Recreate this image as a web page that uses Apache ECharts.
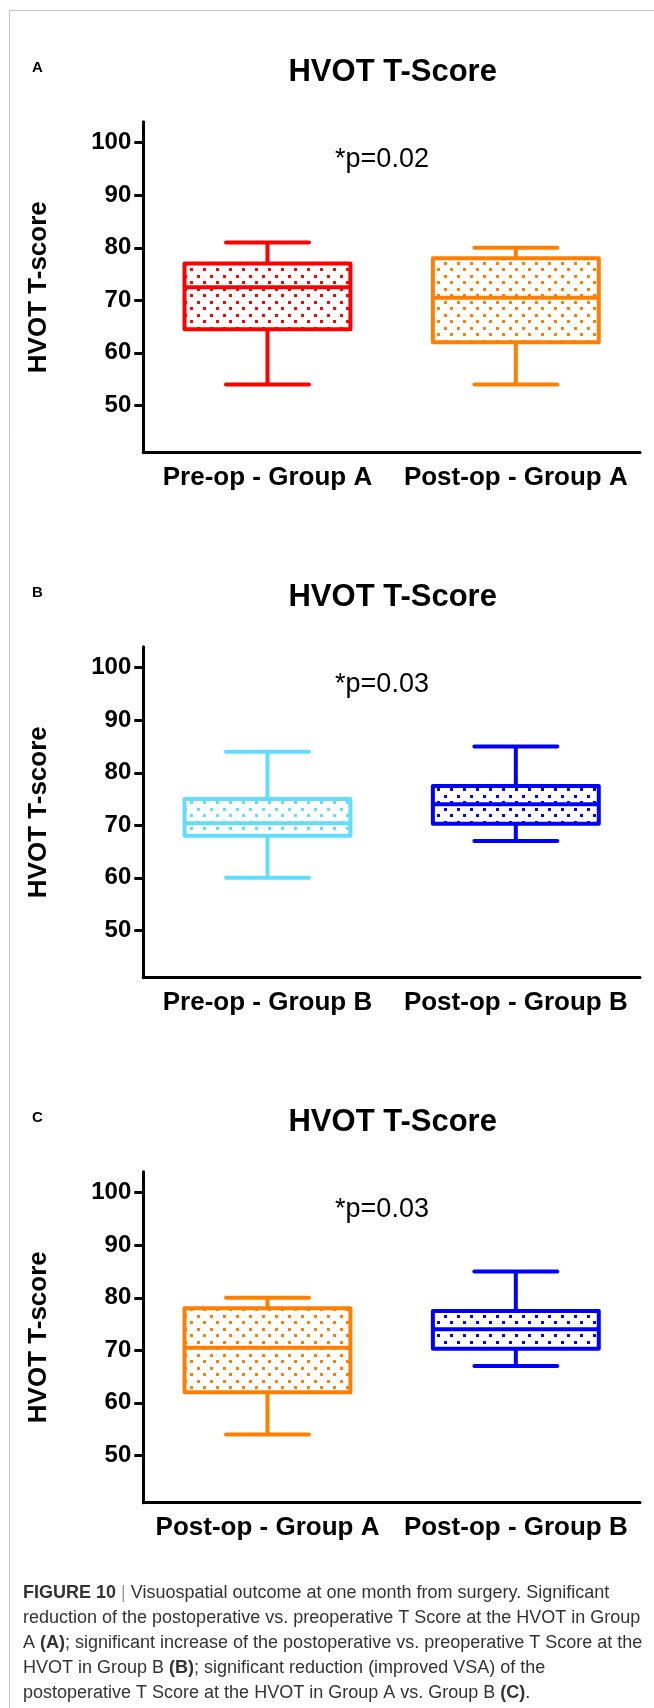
<!DOCTYPE html>
<html>
<head>
<meta charset="utf-8">
<script src="https://cdn.jsdelivr.net/npm/echarts@6/dist/echarts.min.js"></script>
<style>
html,body{margin:0;padding:0;background:#fff;}
#chart{width:654px;height:1708px;}
</style>
</head>
<body>
<div id="chart"></div>
<script>
// ---- data ----
const catsA = ['Pre-op - Group A', 'Post-op - Group A'];
const catsB = ['Pre-op - Group B', 'Post-op - Group B'];
const catsC = ['Post-op - Group A', 'Post-op - Group B'];
// [min, Q1, median, Q3, max]
const boxA = [[54, 64.5, 72.5, 77, 81], [54, 62, 70.5, 78, 80]];
const boxB = [[60, 68, 70.4, 75, 84], [67, 70.3, 74, 77.5, 85]];
const boxC = [[54, 62, 70.5, 78, 80], [67, 70.3, 74, 77.5, 85]];
const colorsA = ['#ff0000', '#ff8000'];
const colorsB = ['#62dcff', '#0000ff'];
const colorsC = ['#ff8000', '#0000ff'];
const pTexts = ['*p=0.02', '*p=0.03', '*p=0.03'];
const panelLetters = ['A', 'B', 'C'];
const yTicks = [50, 60, 70, 80, 90, 100];
const yMin = 41, yMax = 104;

function dotPattern(color) {
  const c = document.createElement('canvas');
  c.width = 13; c.height = 13;
  const g = c.getContext('2d');
  g.fillStyle = '#ffffff';
  g.fillRect(0, 0, 13, 13);
  g.fillStyle = color;
  g.fillRect(2, 2, 3, 3);
  g.fillRect(8, 8, 3, 3);
  return { image: c, repeat: 'repeat' };
}

const panels = [
  { cats: catsA, box: boxA, colors: colorsA },
  { cats: catsB, box: boxB, colors: colorsB },
  { cats: catsC, box: boxC, colors: colorsC }
];

const OFFSET = 525;
const GRID_LEFT = 143.3, GRID_RIGHT = 14, GRID_TOP = 121.7, GRID_H = 331;
const FONT = '"Liberation Sans", Arial, Helvetica, sans-serif';

const grids = [], xAxes = [], yAxes = [], series = [], graphics = [];

panels.forEach((p, k) => {
  grids.push({ left: GRID_LEFT, right: GRID_RIGHT, top: GRID_TOP + OFFSET * k, height: GRID_H });
  xAxes.push({
    type: 'category', gridIndex: k, data: p.cats, boundaryGap: true,
    axisLine: { lineStyle: { color: '#000', width: 3 } },
    axisTick: { alignWithLabel: true, length: 10, lineStyle: { color: '#000', width: 3 } },
    axisLabel: { interval: 0, hideOverlap: false, color: '#000', fontFamily: FONT, fontWeight: 'bold', fontSize: 26, margin: 12 },
    splitLine: { show: false }
  });
  yAxes.push({
    type: 'value', gridIndex: k, min: yMin, max: yMax,
    name: 'HVOT T-score', nameLocation: 'middle', nameGap: 91,
    nameTextStyle: { color: '#000', fontFamily: FONT, fontWeight: 'bold', fontSize: 26 },
    axisLine: { show: true, lineStyle: { color: '#000', width: 3 } },
    axisTick: { show: true, length: 9, customValues: yTicks, lineStyle: { color: '#000', width: 3 } },
    axisLabel: { color: '#000', fontFamily: FONT, fontWeight: 'bold', fontSize: 24, margin: 12, customValues: yTicks },
    splitLine: { show: false }
  });
  const patterns = p.colors.map(dotPattern);
  series.push({
    type: 'custom', xAxisIndex: k, yAxisIndex: k,
    data: p.box.map((b, i) => [i].concat(b)),
    encode: { x: 0, y: [1, 2, 3, 4, 5] },
    renderItem: function (params, api) {
      const ci = api.value(0);
      const col = p.colors[params.dataIndex];
      const pat = patterns[params.dataIndex];
      const x = api.coord([ci, api.value(3)])[0];
      const yMinP = api.coord([ci, api.value(1)])[1];
      const yQ1 = api.coord([ci, api.value(2)])[1];
      const yMed = api.coord([ci, api.value(3)])[1];
      const yQ3 = api.coord([ci, api.value(4)])[1];
      const yMaxP = api.coord([ci, api.value(5)])[1];
      const bw = api.size([1, 0])[0] * 0.668;
      const half = bw / 2, capHalf = bw / 4;
      const ls = { stroke: col, lineWidth: 4, fill: null };
      return {
        type: 'group',
        children: [
          { type: 'line', shape: { x1: x, y1: yQ3, x2: x, y2: yMaxP }, style: ls },
          { type: 'line', shape: { x1: x, y1: yQ1, x2: x, y2: yMinP }, style: ls },
          { type: 'line', shape: { x1: x - capHalf, y1: yMaxP, x2: x + capHalf, y2: yMaxP }, style: Object.assign({ lineCap: 'round' }, ls) },
          { type: 'line', shape: { x1: x - capHalf, y1: yMinP, x2: x + capHalf, y2: yMinP }, style: Object.assign({ lineCap: 'round' }, ls) },
          { type: 'rect', shape: { x: x - half, y: yQ3, width: bw, height: yQ1 - yQ3 }, style: { fill: pat, stroke: col, lineWidth: 4, lineJoin: 'round' } },
          { type: 'line', shape: { x1: x - half, y1: yMed, x2: x + half, y2: yMed }, style: ls }
        ]
      };
    }
  });
  graphics.push({ type: 'text', x: 392.7, y: 72.5 + OFFSET * k,
    style: { text: 'HVOT T-Score', fill: '#000', font: 'bold 31px ' + FONT, textAlign: 'center', textVerticalAlign: 'middle' } });
  graphics.push({ type: 'text', x: 37.5, y: 67.5 + OFFSET * k,
    style: { text: panelLetters[k], fill: '#000', font: 'bold 15px ' + FONT, textAlign: 'center', textVerticalAlign: 'middle' } });
  graphics.push({ type: 'text', x: 382, y: 160 + OFFSET * k,
    style: { text: pTexts[k], fill: '#000', font: '27px ' + FONT, textAlign: 'center', textVerticalAlign: 'middle' } });
});

graphics.push({ type: 'polyline', shape: { points: [[9.5, 1708], [9.5, 10.5], [654, 10.5]] },
  style: { stroke: '#c4c4c4', lineWidth: 1, fill: null } });

const captionLines = [
  '{b|FIGURE 10} {g||} Visuospatial outcome at one month from surgery. Significant',
  'reduction of the postoperative vs. preoperative T Score at the HVOT in Group',
  'A {b|(A)}; significant increase of the postoperative vs. preoperative T Score at the',
  'HVOT in Group B {b|(B)}; significant reduction (improved VSA) of the',
  'postoperative T Score at the HVOT in Group A vs. Group B {b|(C)}.'
];
captionLines.forEach((t, i) => {
  graphics.push({ type: 'text', x: 23, y: 1593 + 25 * i,
    style: {
      text: t, fill: '#333', font: '18px ' + FONT, textAlign: 'left', textVerticalAlign: 'middle',
      rich: {
        b: { fontWeight: 'bold', fontSize: 18, fontFamily: FONT, fill: '#333' },
        g: { fontSize: 18, fontFamily: FONT, fill: '#999' }
      }
    } });
});

const chart = echarts.init(document.getElementById('chart'), null, { renderer: 'canvas' });
chart.setOption({
  backgroundColor: '#fff',
  animation: false,
  grid: grids,
  xAxis: xAxes,
  yAxis: yAxes,
  series: series,
  graphic: graphics
});
</script>
</body>
</html>
